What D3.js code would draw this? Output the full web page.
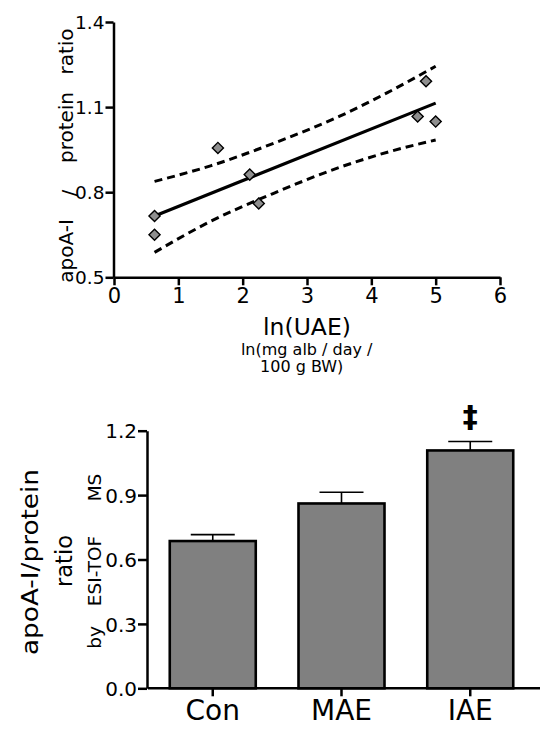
<!DOCTYPE html>
<html><head><meta charset="utf-8">
<script src="https://cdn.jsdelivr.net/npm/d3@7"></script>
<style>body{margin:0;background:#fff}svg{display:block}text{font-family:"DejaVu Sans",sans-serif;fill:#000}</style>
</head><body>
<svg id="c" width="540" height="737"></svg>
<script>
// ---- Top panel data (scatter + regression) ----
const scatterX = [0.63, 0.63, 1.615, 2.11, 2.25, 4.72, 4.85, 5.0];
const scatterY = [0.716, 0.650, 0.956, 0.862, 0.760, 1.067, 1.191, 1.049];
const fitX = [0.63, 5.0];
const fitY = [0.716, 1.114];
const bandX = [0.63, 1.5, 2.5, 3.5, 4.25, 5.0];
const bandUpper = [0.838, 0.893, 0.974, 1.067, 1.151, 1.244];
const bandLower = [0.588, 0.697, 0.798, 0.887, 0.941, 0.984];
const topXTicks = [0, 1, 2, 3, 4, 5, 6];
const topYTicks = [0.5, 0.8, 1.1, 1.4];
const topYLabelWords = ["apoA-I", "/", "protein", "ratio"];

// ---- Bottom panel data (bars) ----
const groups = ["Con", "MAE", "IAE"];
const barMeans = [0.686, 0.861, 1.108];
const barErr = [0.030, 0.052, 0.042];
const barYTicks = [0.0, 0.3, 0.6, 0.9, 1.2];
const sigMarks = ["", "", "‡"];

const svg = d3.select("#c");

// ===== TOP PANEL =====
const x1 = d3.scaleLinear().domain([0, 6]).range([114, 500]);
const y1 = d3.scaleLinear().domain([0.5, 1.4]).range([277.3, 22]);
const gT = svg.append("g");

const xAx1 = gT.append("g").attr("transform", "translate(0,277.3)")
  .call(d3.axisBottom(x1).tickValues(topXTicks).tickFormat(d3.format("d")).tickSize(8).tickSizeOuter(0).tickPadding(2));
xAx1.selectAll("text").attr("font-size", 21).attr("dy", "0.75em");
const yAx1 = gT.append("g").attr("transform", "translate(113.5,0)")
  .call(d3.axisLeft(y1).tickValues(topYTicks).tickFormat(d3.format(".1f")).tickSize(8).tickSizeOuter(0).tickPadding(1));
yAx1.selectAll("text").attr("font-size", 18.5).attr("dy", "0.36em");
[xAx1, yAx1].forEach(a => { a.selectAll("path,line").attr("stroke", "#000").attr("stroke-width", 2.5); a.selectAll("text").attr("fill", "#000"); });

// confidence bands
const bandLine = d3.line().curve(d3.curveMonotoneX);
[bandUpper, bandLower].forEach(arr => {
  gT.append("path")
    .attr("d", bandLine(bandX.map((v, i) => [x1(v), y1(arr[i])])))
    .attr("fill", "none").attr("stroke", "#000").attr("stroke-width", 3).attr("stroke-dasharray", "8,5");
});
// regression line
gT.append("path")
  .attr("d", d3.line()(fitX.map((v, i) => [x1(v), y1(fitY[i])])))
  .attr("fill", "none").attr("stroke", "#000").attr("stroke-width", 3.2);
// points
const diamond = d3.symbol().type(d3.symbolSquare).size(62);
gT.selectAll("path.pt").data(scatterX).join("path").attr("class", "pt")
  .attr("d", diamond)
  .attr("transform", (d, i) => `translate(${x1(d)},${y1(scatterY[i])}) rotate(45)`)
  .attr("fill", "#8e8e8e").attr("stroke", "#000").attr("stroke-width", 1.4);

// y label: words placed along the axis
const wordCentersY = [251, 193, 127.5, 51.5];
topYLabelWords.forEach((w, i) => {
  gT.append("text").attr("transform", `translate(${w === "/" ? 76 : 73},${wordCentersY[i]}) rotate(-90)`)
    .attr("text-anchor", "middle").attr("font-size", 20).text(w);
});
gT.append("text").attr("x", 307).attr("y", 334.5).attr("text-anchor", "middle")
  .attr("font-size", 23.5).text("ln(UAE)");
gT.append("text").attr("x", 306.7).attr("y", 354.5).attr("text-anchor", "middle")
  .attr("font-size", 16).text("ln(mg alb / day /");
gT.append("text").attr("x", 301.7).attr("y", 372).attr("text-anchor", "middle")
  .attr("font-size", 16).text("100 g BW)");

// ===== BOTTOM PANEL =====
const x2 = d3.scaleBand().domain(groups).range([148, 535]).paddingInner(0.332).paddingOuter(0.169);
const y2 = d3.scaleLinear().domain([0, 1.2]).range([688.3, 430.7]);
const gB = svg.append("g");

gB.selectAll("rect.bar").data(groups).join("rect").attr("class", "bar")
  .attr("x", d => x2(d)).attr("width", x2.bandwidth())
  .attr("y", (d, i) => y2(barMeans[i])).attr("height", (d, i) => y2(0) - y2(barMeans[i]))
  .attr("fill", "#808080").attr("stroke", "#000").attr("stroke-width", 2.6);

const capW = 44;
groups.forEach((g, i) => {
  const cx = x2(g) + x2.bandwidth() / 2;
  gB.append("line").attr("x1", cx).attr("x2", cx)
    .attr("y1", y2(barMeans[i])).attr("y2", y2(barMeans[i] + barErr[i]))
    .attr("stroke", "#000").attr("stroke-width", 1.6);
  gB.append("line").attr("x1", cx - capW / 2).attr("x2", cx + capW / 2)
    .attr("y1", y2(barMeans[i] + barErr[i])).attr("y2", y2(barMeans[i] + barErr[i]))
    .attr("stroke", "#000").attr("stroke-width", 1.6);
  if (sigMarks[i]) {
    gB.append("text").attr("x", cx).attr("y", y2(barMeans[i] + barErr[i]) - 14)
      .attr("text-anchor", "middle").attr("font-size", 30).attr("font-weight", "bold").text(sigMarks[i]);
  }
});

const xAx2 = gB.append("g").attr("transform", "translate(0,688.3)")
  .call(d3.axisBottom(x2).tickSize(8).tickSizeOuter(0).tickPadding(4));
xAx2.select("path.domain").attr("d", "M148,0H540");
xAx2.selectAll("text").attr("font-size", 28).attr("dy", "0.72em");
const yAx2 = gB.append("g").attr("transform", "translate(147,0)")
  .call(d3.axisLeft(y2).tickValues(barYTicks).tickFormat(d3.format(".1f")).tickSize(9).tickSizeOuter(0).tickPadding(1));
yAx2.selectAll("text").attr("font-size", 20).attr("dy", "0.36em");
[xAx2, yAx2].forEach(a => { a.selectAll("path,line").attr("stroke", "#000").attr("stroke-width", 2.5); a.selectAll("text").attr("fill", "#000"); });

gB.append("text").attr("transform", "translate(37.5,562) rotate(-90)")
  .attr("text-anchor", "middle").attr("font-size", 22.5)
  .attr("textLength", 186).attr("lengthAdjust", "spacingAndGlyphs").text("apoA-I/protein");
gB.append("text").attr("transform", "translate(71.5,561) rotate(-90)")
  .attr("text-anchor", "middle").attr("font-size", 22.5).text("ratio");
[["by", 637.5], ["ESI-TOF", 571], ["MS", 487.5]].forEach(([w, c]) => {
  gB.append("text").attr("transform", `translate(100.5,${c}) rotate(-90)`)
    .attr("text-anchor", "middle").attr("font-size", 18.5).text(w);
});
</script>
</body></html>
